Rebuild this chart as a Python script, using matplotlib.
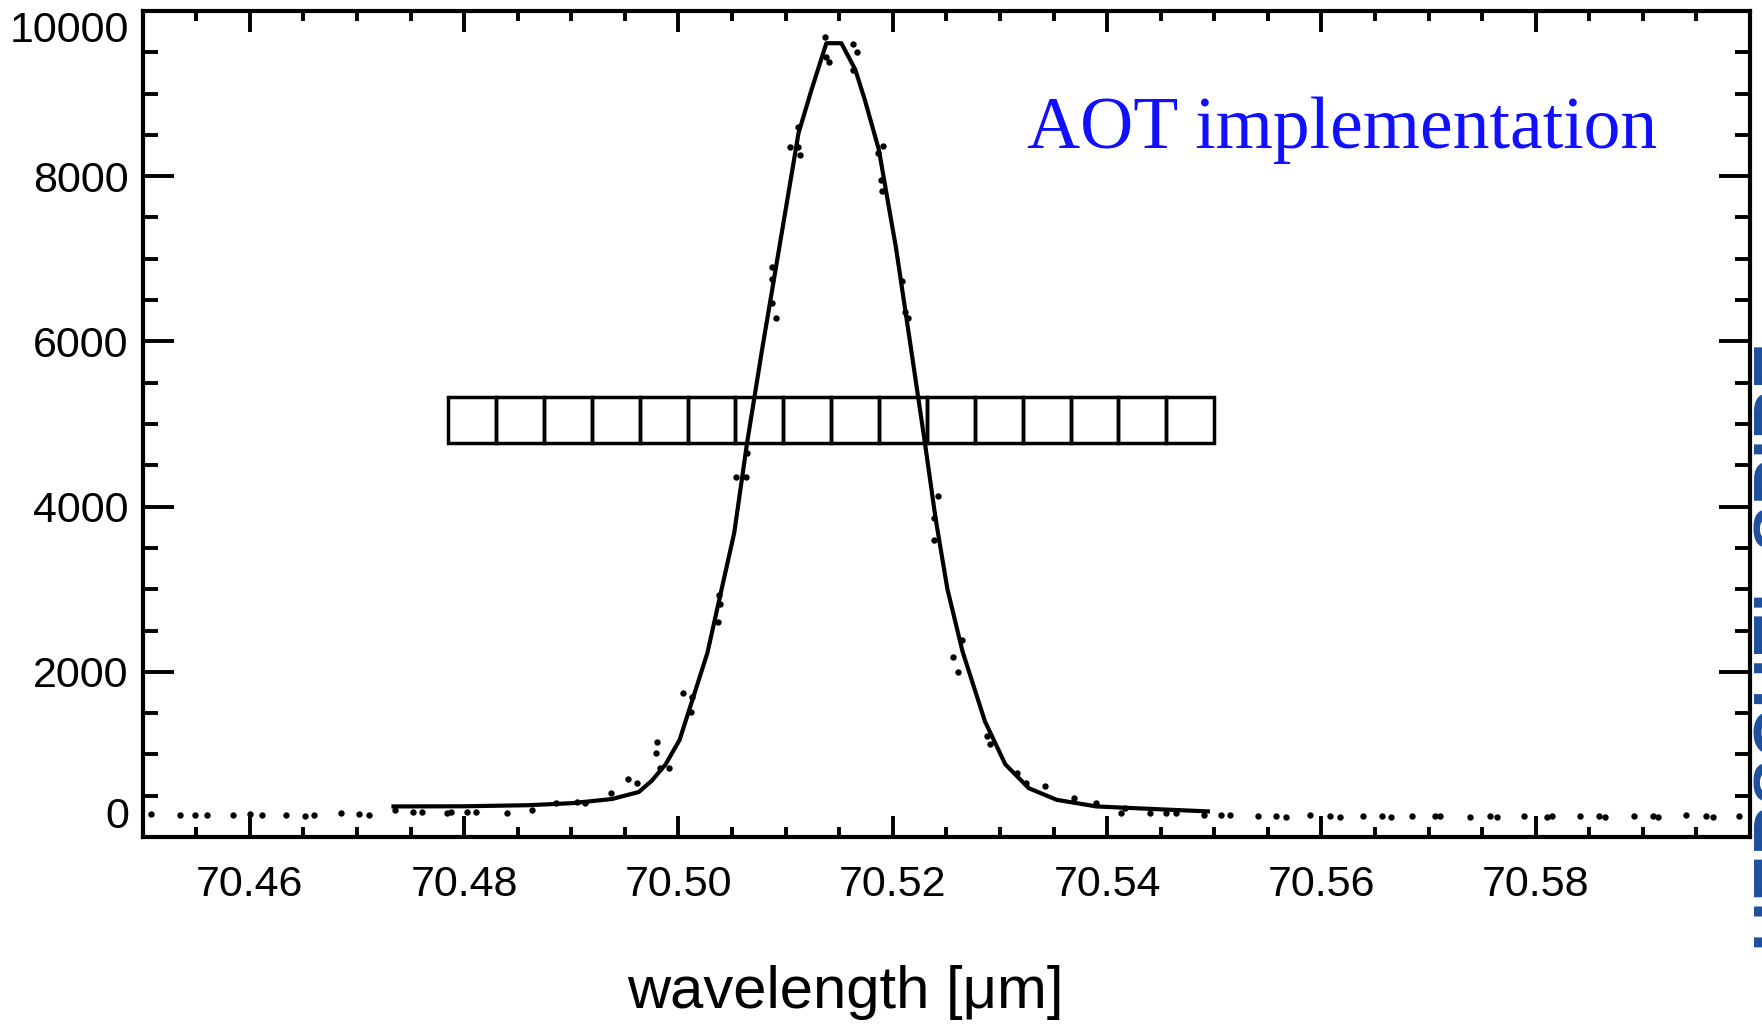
"""
plot.py -- PACS line profile with the 16-pixel spectral window ("AOT implementation").
Values read off the reference figure by eye.
"""
import matplotlib
matplotlib.use('Agg')
import matplotlib.pyplot as plt
from matplotlib.ticker import MultipleLocator
import numpy as np

# ------- model line profile (solid curve) ------------------------------------ #
fit_wave = [70.4734, 70.4800, 70.4860, 70.4901, 70.4938, 70.4963, 70.4975,
            70.4988, 70.5001, 70.5013, 70.5027, 70.5038, 70.5052, 70.5064,
            70.5078, 70.5094, 70.5112, 70.5124, 70.5138, 70.5152, 70.5165,
            70.5174, 70.5187, 70.5203, 70.5216, 70.5230, 70.5240, 70.5251,
            70.5265, 70.5286, 70.5305, 70.5327, 70.5353, 70.5390, 70.5450,
            70.5494]
fit_flux = [370, 372, 385, 410, 460, 545, 680,
            880, 1175, 1660, 2230, 2870, 3680, 4770,
            5900, 7130, 8520, 9040, 9610, 9610, 9290,
            8920, 8320, 7130, 6000, 4770, 3850, 3000,
            2250, 1400, 880, 590, 450, 370, 335,
            310]

# ------- measured samples (dots) --------------------------------------------- #
base_left_wave = [70.4508, 70.4535, 70.4549, 70.4560, 70.4584, 70.4600, 70.4611,
                  70.4634, 70.4651, 70.4660, 70.4685, 70.4702, 70.4711]
base_left_flux = [275, 268, 262, 270, 266, 280, 262,
                  270, 258, 266, 285, 275, 262]

line_wave = [70.4735, 70.4752, 70.4761, 70.4784, 70.4788, 70.4803, 70.4811,
             70.4840, 70.4863, 70.4886, 70.4905, 70.4913, 70.4937, 70.4953,
             70.4961, 70.4980, 70.4979, 70.4983, 70.4991, 70.5004, 70.5013,
             70.5012, 70.5038, 70.5039, 70.5037, 70.5054, 70.5063, 70.5064,
             70.5087, 70.5087, 70.5087, 70.5091, 70.5104, 70.5112, 70.5113,
             70.5112, 70.5137, 70.5138, 70.5140, 70.5163, 70.5167, 70.5163,
             70.5191, 70.5186, 70.5189, 70.5190, 70.5209, 70.5211, 70.5214,
             70.5242, 70.5238, 70.5238, 70.5256, 70.5261, 70.5265, 70.5288,
             70.5291, 70.5316, 70.5324, 70.5342, 70.5369, 70.5390, 70.5417,
             70.5413, 70.5440, 70.5455, 70.5464, 70.5490]
line_flux = [330, 300, 305, 290, 300, 303, 300,
             290, 327, 412, 424, 410, 533, 702,
             654, 1150, 1017, 835, 835, 1743, 1695,
             1513, 2930, 2820, 2603, 4358, 4358, 4649,
             6901, 6755, 6465, 6283, 8354, 8354, 8257,
             8596, 9685, 9443, 9383, 9600, 9504, 9286,
             8366, 8281, 7954, 7821, 6732, 6351, 6283,
             4128, 3862, 3596, 2176, 1999, 2380, 1224,
             1129, 775, 653, 612, 476, 412, 351,
             290, 290, 290, 290, 266]

base_right_wave = [70.5506, 70.5515, 70.5541, 70.5558, 70.5567, 70.5589, 70.5608,
                   70.5617, 70.5639, 70.5657, 70.5665, 70.5685, 70.5706, 70.5711,
                   70.5739, 70.5757, 70.5764, 70.5789, 70.5811, 70.5815, 70.5841,
                   70.5859, 70.5865, 70.5892, 70.5909, 70.5914, 70.5940, 70.5959,
                   70.5965, 70.5990]
base_right_flux = [262, 262, 250, 255, 245, 262, 250,
                   242, 250, 255, 245, 255, 250, 255,
                   245, 252, 240, 255, 248, 250, 255,
                   250, 240, 258, 250, 245, 262, 252,
                   245, 255]

# ------- detector pixels of the spectral window (16 cells) ------------------- #
pixel_wave_lo, pixel_wave_hi = 70.4785, 70.5500
pixel_flux_lo, pixel_flux_hi = 4770, 5330
n_pixels = 16

x_ticks = [70.46, 70.48, 70.50, 70.52, 70.54, 70.56, 70.58]
y_ticks = [0, 2000, 4000, 6000, 8000, 10000]

SANS = ['Liberation Sans', 'DejaVu Sans']
SERIF = ['Liberation Serif', 'DejaVu Serif']

fig = plt.figure(figsize=(17.62, 10.27), dpi=100)
ax = fig.add_axes([0.081, 0.185, 0.9122, 0.8043])

ax.plot(fit_wave, fit_flux, color='k', lw=3.0, solid_joinstyle='round', zorder=3)
for w, f in ((base_left_wave, base_left_flux), (line_wave, line_flux),
             (base_right_wave, base_right_flux)):
    ax.plot(w, f, 'o', color='k', ms=4.6, mew=0, zorder=4, clip_on=False)

# pixel row
edges = np.linspace(pixel_wave_lo, pixel_wave_hi, n_pixels + 1)
for x0, x1 in zip(edges[:-1], edges[1:]):
    ax.add_patch(plt.Rectangle((x0, pixel_flux_lo), x1 - x0, pixel_flux_hi - pixel_flux_lo,
                               fill=False, ec='k', lw=2.5, zorder=2))

ax.set_xlim(70.45, 70.60)
ax.set_ylim(0, 10000)
ax.set_xticks(x_ticks)
ax.set_xticklabels([f'{v:.2f}' for v in x_ticks])
ax.set_yticks(y_ticks)
ax.set_yticklabels([str(v) for v in y_ticks])
ax.xaxis.set_minor_locator(MultipleLocator(0.005))
ax.yaxis.set_minor_locator(MultipleLocator(500))

for s in ax.spines.values():
    s.set_linewidth(3.0)
ax.tick_params(axis='both', which='both', direction='in', top=True, right=True, width=2.8)
ax.tick_params(axis='x', which='major', length=15, pad=20)
ax.tick_params(axis='x', which='minor', length=7.5)
ax.tick_params(axis='y', which='major', length=22, pad=10)
ax.tick_params(axis='y', which='minor', length=11)
for lab in ax.get_xticklabels() + ax.get_yticklabels():
    lab.set_family(SANS)
    lab.set_fontsize(31)
ylabs = ax.get_yticklabels()
ylabs[0].set_va('bottom')
ylabs[-1].set_va('top')

ax.text(0.746, 0.834, 'AOT implementation', transform=ax.transAxes, ha='center',
        va='baseline', color='#1010ff', fontsize=53, family=SERIF)

fig.text(0.4796, 0.034, 'wavelength [\u03bcm]', ha='center', va='center',
         fontsize=43, family=SANS)

# sliver of a rotated logo, clipped at the right edge of the slide
edge_ax = fig.add_axes([0.9945, 0.07, 0.0055, 0.6], frameon=False)
edge_ax.set_axis_off()
edge_ax.text(0.0, 0.5, 'HERSCHEL SPIRE', rotation=90, ha='left', va='center',
             color='#1d4f9e', fontsize=50, fontweight='bold', family=SANS,
             transform=edge_ax.transAxes, clip_on=True)

fig.savefig('out.png', dpi=100)
